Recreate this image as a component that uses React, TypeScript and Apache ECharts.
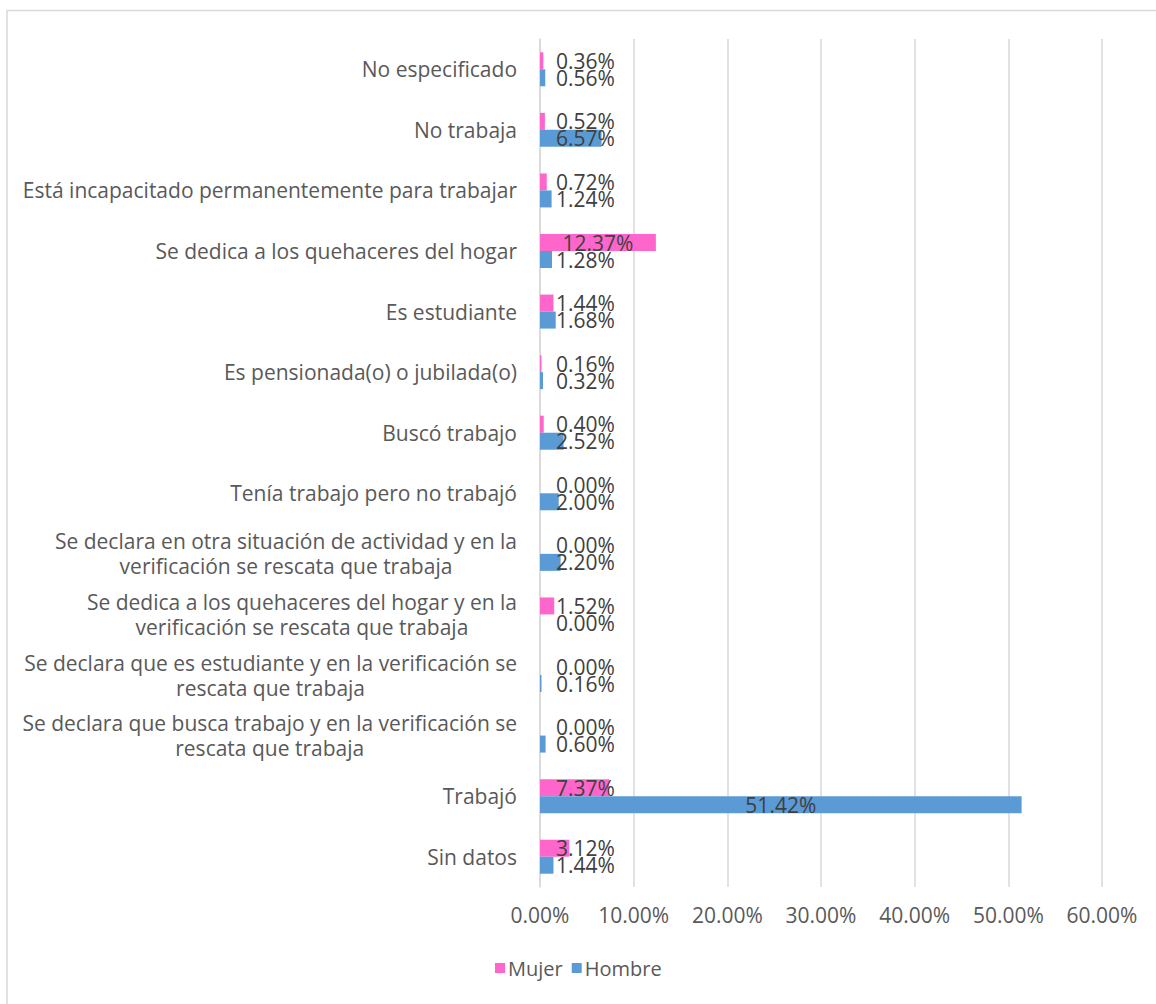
import React, { useEffect, useRef } from 'react';
import * as echarts from 'echarts';

const categories = [
  'No especificado',
  'No trabaja',
  'Está incapacitado permanentemente para trabajar',
  'Se dedica a los quehaceres del hogar',
  'Es estudiante',
  'Es pensionada(o) o jubilada(o)',
  'Buscó trabajo',
  'Tenía trabajo pero no trabajó',
  'Se declara en otra situación de actividad y en la\nverificación se rescata que trabaja',
  'Se dedica a los quehaceres del hogar y en la\nverificación se rescata que trabaja',
  'Se declara que es estudiante y en la verificación se\nrescata que trabaja',
  'Se declara que busca trabajo y en la verificación se\nrescata que trabaja',
  'Trabajó',
  'Sin datos',
];

const mujer = [0.36, 0.52, 0.72, 12.37, 1.44, 0.16, 0.4, 0.0, 0.0, 1.52, 0.0, 0.0, 7.37, 3.12];
const hombre = [0.56, 6.57, 1.24, 1.28, 1.68, 0.32, 2.52, 2.0, 2.2, 0.0, 0.16, 0.6, 51.42, 1.44];

const seriesNames = ['Mujer', 'Hombre'];
const seriesColors = ['#FF66CC', '#5B9BD5'];

const FONT = 'Open Sans';
const AXIS_COLOR = '#595959';

const fmt = (v: number) => `${Number(v).toFixed(2)}%`;

const toData = (arr: number[]) =>
  arr.map((v) => ({
    value: v,
    label: v > 9.8 ? { position: 'inside' } : { position: 'insideLeft', distance: 16 },
  }));

export default function App() {
  const ref = useRef<HTMLDivElement>(null);

  useEffect(() => {
    if (!ref.current) return;
    const chart = echarts.init(ref.current, null, { renderer: 'svg' });
    chart.setOption({
      animation: false,
      textStyle: { fontFamily: FONT },
      graphic: [
        {
          type: 'rect',
          shape: { x: 7, y: 10.5, width: 1400, height: 1400 },
          style: { fill: 'none', stroke: '#d9d9d9', lineWidth: 1.5 },
          silent: true,
        },
      ],
      legend: {
        data: seriesNames,
        left: 490,
        top: 953,
        icon: 'rect',
        itemWidth: 10,
        itemHeight: 10,
        itemGap: 9,
        textStyle: { fontSize: 20, color: AXIS_COLOR, fontFamily: FONT, padding: [0, 0, 0, -2] },
      },
      grid: { left: 540, right: 54, top: 39, bottom: 117, containLabel: false },
      xAxis: {
        type: 'value',
        min: 0,
        max: 60,
        interval: 10,
        axisLine: { show: false },
        axisTick: { show: false },
        splitLine: { show: true, lineStyle: { color: '#d9d9d9', width: 1.5 } },
        axisLabel: {
          formatter: (v: number) => fmt(v),
          fontSize: 21,
          color: AXIS_COLOR,
          fontFamily: FONT,
          margin: 17,
        },
      },
      yAxis: {
        type: 'category',
        inverse: true,
        data: categories,
        axisLine: { show: true, lineStyle: { color: '#d9d9d9', width: 1.5 } },
        axisTick: { show: false },
        axisLabel: {
          margin: 23,
          formatter: (v: string) =>
            v
              .split('\n')
              .map((l) => `{c|${l}}`)
              .join('\n'),
          rich: {
            c: {
              align: 'center',
              fontSize: 21,
              lineHeight: 25,
              color: AXIS_COLOR,
              fontFamily: FONT,
            },
          },
        },
      },
      series: [mujer, hombre].map((arr, i) => ({
        name: seriesNames[i],
        type: 'bar',
        data: toData(arr),
        barWidth: 17,
        barGap: '0%',
        itemStyle: { color: seriesColors[i] },
        label: {
          show: true,
          formatter: (p: any) => fmt(p.value),
          fontSize: 21,
          color: '#404040',
          fontFamily: FONT,
        },
      })),
    });
    return () => chart.dispose();
  }, []);

  return (
    <div
      ref={ref}
      style={{ position: 'fixed', left: 0, top: 0, width: 1156, height: 1004, background: '#fff' }}
    />
  );
}
